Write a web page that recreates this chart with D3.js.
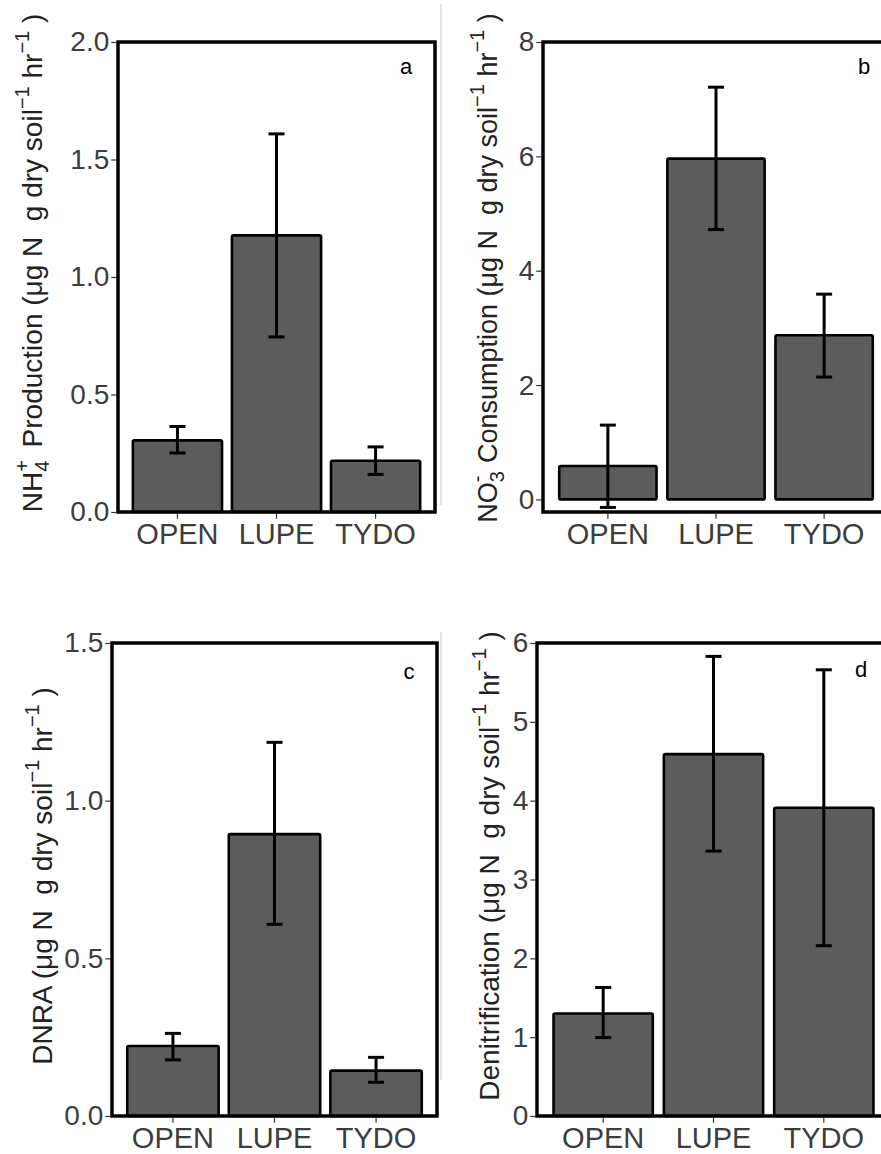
<!DOCTYPE html>
<html>
<head>
<meta charset="utf-8">
<script src="https://cdn.jsdelivr.net/npm/d3@7"></script>
<style>
  body { margin: 0; background: #fff; }
  svg text { font-family: "Liberation Sans", Arial, sans-serif; white-space: pre; }
</style>
</head>
<body>
<script>
const sites = ["OPEN", "LUPE", "TYDO"];

// a: NH4+ production
const nh4Mean = [0.305, 1.177, 0.218];
const nh4Lo   = [0.251, 0.745, 0.160];
const nh4Hi   = [0.364, 1.609, 0.277];
const nh4Ticks = [0, 0.5, 1.0, 1.5, 2.0];

// b: NO3- consumption
const no3Mean = [0.585, 5.96, 2.87];
const no3Lo   = [-0.14, 4.72, 2.14];
const no3Hi   = [1.30, 7.21, 3.59];
const no3Ticks = [0, 2, 4, 6, 8];

// c: DNRA
const dnraMean = [0.222, 0.894, 0.144];
const dnraLo   = [0.178, 0.608, 0.107];
const dnraHi   = [0.262, 1.185, 0.186];
const dnraTicks = [0, 0.5, 1.0, 1.5];

// d: denitrification
const denMean = [1.30, 4.59, 3.91];
const denLo   = [0.995, 3.36, 2.16];
const denHi   = [1.63, 5.83, 5.66];
const denTicks = [0, 1, 2, 3, 4, 5, 6];

const width = 881, height = 1154;

const svg = d3.select("body").append("svg")
    .attr("width", width)
    .attr("height", height);

// thin grey seams from the pasted panels
svg.append("line").attr("x1", 441).attr("x2", 441).attr("y1", 4).attr("y2", 505)
    .attr("stroke", "#d4d4d4").attr("stroke-width", 1.2);
svg.append("line").attr("x1", 441).attr("x2", 441).attr("y1", 632).attr("y2", 1080)
    .attr("stroke", "#d4d4d4").attr("stroke-width", 1.2);

const unit = " (\u03bcg N  g dry soil";
const tail = [{t: "\u22121", sup: true}, {t: " hr"}, {t: "\u22121", sup: true}, {t: " )"}];

const panels = [
  {mean: nh4Mean, lo: nh4Lo, hi: nh4Hi, ticks: nh4Ticks, fmt: d3.format(".1f"),
   dom: [0, 2], x0: 118, x1: 435, y0: 42, y1: 512, tag: "a", tagX: 406, tagY: 74,
   titleX: 42, titleY: 263, titleSize: 28,
   title: [{t: "NH"}, {t: "4", sub: true}, {t: "+", sup: true, stack: true}, {t: " Production" + unit, gap: 5}].concat(tail)},
  {mean: no3Mean, lo: no3Lo, hi: no3Hi, ticks: no3Ticks, fmt: d3.format("d"),
   dom: [-0.22, 8], x0: 543, x1: 889, y0: 42, y1: 512, tag: "b", tagX: 864, tagY: 74,
   titleX: 497, titleY: 268, titleSize: 27,
   title: [{t: "NO"}, {t: "3", sub: true}, {t: "-", sup: true, stack: true}, {t: " Consumption" + unit, gap: 5}].concat(tail)},
  {mean: dnraMean, lo: dnraLo, hi: dnraHi, ticks: dnraTicks, fmt: d3.format(".1f"),
   dom: [0, 1.5], x0: 112, x1: 437, y0: 643, y1: 1116, tag: "c", tagX: 409, tagY: 679,
   titleX: 52, titleY: 876, titleSize: 28,
   title: [{t: "DNRA" + unit}].concat(tail)},
  {mean: denMean, lo: denLo, hi: denHi, ticks: denTicks, fmt: d3.format("d"),
   dom: [0, 6], x0: 537, x1: 890, y0: 643, y1: 1116, tag: "d", tagX: 861, tagY: 677,
   titleX: 499, titleY: 866, titleSize: 28,
   title: [{t: "Denitrification" + unit}].concat(tail)}
];

function richText(sel, parts) {
  let cur = 0;
  let lastW = 0;
  parts.forEach(p => {
    const target = p.sub ? 7 : p.sup ? -13 : 0;
    const ts = sel.append("tspan")
        .attr("dy", target - cur)
        .style("font-size", (p.sub || p.sup) ? "20px" : null)
        .text(p.t);
    if (p.stack) ts.attr("dx", -lastW);
    if (p.gap) ts.attr("dx", p.gap);
    cur = target;
    lastW = ts.node().getComputedTextLength();
  });
}

panels.forEach(p => {
  const g = svg.append("g");

  const x = d3.scaleBand()
      .domain(sites)
      .range([p.x0, p.x1]);
  // ggplot style: band step with 0.6 step on the outside
  const step = (p.x1 - p.x0) / 3.2;
  const cx = d => p.x0 + step * (0.6 + sites.indexOf(d));
  const bw = step * 0.9;

  const y = d3.scaleLinear().domain(p.dom).range([p.y1, p.y0]);

  // bars
  g.selectAll("rect.bar")
    .data(sites)
    .join("rect")
      .attr("class", "bar")
      .attr("x", d => cx(d) - bw / 2)
      .attr("width", bw)
      .attr("y", (d, i) => y(p.mean[i]))
      .attr("height", (d, i) => y(0) - y(p.mean[i]))
      .attr("rx", 1.5)
      .attr("fill", "#5c5c5c")
      .attr("stroke", "#000")
      .attr("stroke-width", 2.6);

  // error bars
  const eb = g.selectAll("g.err").data(sites).join("g").attr("class", "err")
      .attr("stroke", "#000").attr("stroke-width", 3);
  eb.append("line")
      .attr("x1", d => cx(d)).attr("x2", d => cx(d))
      .attr("y1", (d, i) => y(p.lo[i])).attr("y2", (d, i) => y(p.hi[i]));
  eb.append("line")
      .attr("x1", d => cx(d) - 8).attr("x2", d => cx(d) + 8)
      .attr("y1", (d, i) => y(p.hi[i])).attr("y2", (d, i) => y(p.hi[i]));
  eb.append("line")
      .attr("x1", d => cx(d) - 8).attr("x2", d => cx(d) + 8)
      .attr("y1", (d, i) => y(p.lo[i])).attr("y2", (d, i) => y(p.lo[i]));

  // frame
  g.append("rect")
      .attr("x", p.x0).attr("y", p.y0)
      .attr("width", p.x1 - p.x0).attr("height", p.y1 - p.y0)
      .attr("fill", "none").attr("stroke", "#000").attr("stroke-width", 3.5);

  // y axis
  const ya = g.append("g")
      .attr("transform", `translate(${p.x0 - 1.75},0)`)
      .call(d3.axisLeft(y).tickValues(p.ticks).tickFormat(p.fmt).tickSize(5).tickPadding(2));
  ya.select(".domain").remove();
  ya.selectAll(".tick line").attr("stroke", "#333").attr("stroke-width", 1.2);
  ya.selectAll(".tick text").attr("fill", "#3d3d3d").style("font-size", "28px");

  // x axis
  const xa = g.append("g")
      .attr("transform", `translate(0,${p.y1 + 1.75})`)
      .call(d3.axisBottom(x).tickSize(5).tickPadding(5));
  xa.select(".domain").remove();
  xa.selectAll(".tick").attr("transform", d => `translate(${cx(d)},0)`);
  xa.selectAll(".tick line").attr("stroke", "#333").attr("stroke-width", 1.2);
  xa.selectAll(".tick text").attr("fill", "#3d3d3d").style("font-size", "29px");

  // panel tag
  g.append("text")
      .attr("x", p.tagX).attr("y", p.tagY)
      .attr("text-anchor", "middle")
      .style("font-size", "22px")
      .attr("fill", "#000")
      .text(p.tag);

  // y title
  const t = g.append("text")
      .attr("transform", `translate(${p.titleX},${p.titleY}) rotate(-90)`)
      .attr("text-anchor", "middle")
      .attr("fill", "#222")
      .style("font-size", p.titleSize + "px");
  richText(t, p.title);
});
</script>
</body>
</html>
